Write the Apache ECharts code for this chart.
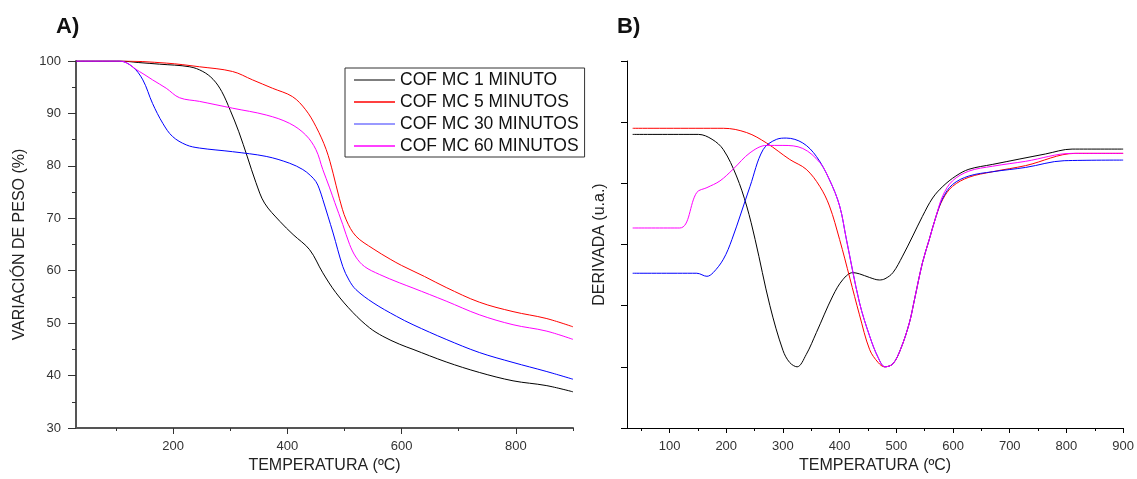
<!DOCTYPE html>
<html>
<head>
<meta charset="utf-8">
<script src="https://cdn.jsdelivr.net/npm/echarts@6/dist/echarts.min.js"></script>
<style>
html,body{margin:0;padding:0;background:#fff;}
#chart{width:1137px;height:479px;}
</style>
</head>
<body>
<div id="chart"></div>
<script>
// ---------- DATA ----------
const seriesNames = ['COF MC 1 MINUTO', 'COF MC 5 MINUTOS', 'COF MC 30 MINUTOS', 'COF MC 60 MINUTOS'];
const seriesColors = ['#000000', '#ff0000', '#0000ff', '#ff00ff'];
const legendColors = ['#555555', '#ff0000', '#7777ff', '#ff00ff'];

// Panel A: weight variation (%)
const aTemp1 = [30, 106, 140, 176, 229, 252, 270, 285, 300, 315, 330, 345, 360, 387, 410, 439, 462, 485, 515, 544, 567, 596, 620, 678, 736, 795, 853, 900];
const aVal1  = [100, 100, 99.7, 99.4, 98.9, 98.0, 96.5, 94.2, 90.6, 86.5, 81.7, 76.8, 72.9, 69.4, 66.9, 64.0, 59.6, 55.8, 52.0, 49.1, 47.5, 46.0, 45.0, 42.6, 40.6, 39.0, 38.1, 36.9];
const aTemp5 = [30, 106, 188, 246, 304, 339, 374, 409, 432, 450, 468, 480, 491, 503, 520, 550, 580, 600, 640, 678, 736, 795, 853, 900];
const aVal5  = [100, 100, 99.6, 98.9, 98.0, 96.4, 94.8, 93.2, 90.7, 87.5, 83.1, 78.6, 73.8, 69.7, 66.6, 64.2, 62.2, 61.0, 58.9, 56.8, 54.0, 52.2, 50.9, 49.3];
const aTemp30 = [30, 106, 129, 147, 164, 182, 199, 223, 246, 304, 363, 404, 427, 440, 450, 456, 462, 480, 497, 508, 520, 550, 591, 620, 678, 736, 795, 853, 900];
const aVal30  = [100, 100, 98.9, 96.4, 91.9, 88.1, 85.6, 84.0, 83.4, 82.7, 81.8, 80.5, 79.3, 78.2, 77.0, 75.6, 73.6, 67.2, 60.8, 58.2, 56.4, 53.9, 51.3, 49.7, 46.9, 44.4, 42.5, 40.8, 39.3];
const aTemp60 = [30, 106, 141, 164, 188, 211, 246, 304, 363, 404, 432, 450, 462, 474, 483, 497, 509, 520, 535, 561, 596, 620, 678, 736, 795, 853, 900];
const aVal60  = [100, 100, 98.0, 96.4, 94.8, 93.0, 92.3, 91.0, 89.7, 88.1, 85.9, 83.1, 79.3, 75.8, 73.0, 68.8, 65.0, 62.6, 60.8, 59.3, 57.7, 56.7, 54.2, 51.6, 49.7, 48.5, 46.9];

// Panel B: derivative (arbitrary units)
const bTemp1 = [35, 151, 175, 195, 218, 236, 251, 277, 300, 312, 325, 341, 359, 388, 406, 423, 435, 453, 470, 480, 494, 511, 529, 546, 564, 582, 605, 628, 670, 763, 810, 900];
const bVal1  = [4.80, 4.80, 4.72, 4.55, 4.12, 3.63, 3.08, 2.00, 1.27, 1.07, 1.00, 1.20, 1.56, 2.16, 2.43, 2.54, 2.52, 2.46, 2.42, 2.44, 2.54, 2.81, 3.14, 3.46, 3.76, 3.95, 4.12, 4.23, 4.31, 4.48, 4.56, 4.56];
const bTemp5 = [35, 195, 236, 271, 312, 341, 365, 382, 400, 418, 435, 453, 468, 479, 494, 508, 523, 532, 546, 558, 570, 582, 599, 628, 670, 728, 816, 900];
const bVal5  = [4.90, 4.90, 4.83, 4.66, 4.39, 4.23, 3.95, 3.63, 3.08, 2.45, 1.85, 1.28, 1.07, 1.00, 1.05, 1.30, 1.72, 2.10, 2.70, 3.08, 3.46, 3.74, 3.95, 4.10, 4.19, 4.29, 4.49, 4.49];
const bTemp30 = [35, 148, 166, 177, 195, 210, 242, 265, 289, 306, 335, 359, 382, 400, 412, 435, 453, 468, 480, 494, 508, 523, 532, 546, 558, 570, 582, 599, 628, 670, 728, 796, 900];
const bVal30  = [2.53, 2.53, 2.48, 2.54, 2.76, 3.08, 3.95, 4.55, 4.72, 4.74, 4.66, 4.44, 4.06, 3.63, 3.08, 2.05, 1.50, 1.15, 1.00, 1.05, 1.30, 1.72, 2.10, 2.70, 3.08, 3.46, 3.76, 3.98, 4.12, 4.19, 4.26, 4.37, 4.38];
const bTemp60 = [35, 118, 148, 166, 189, 212, 242, 271, 300, 335, 365, 382, 400, 412, 435, 453, 468, 480, 494, 508, 523, 532, 546, 558, 570, 582, 599, 628, 670, 728, 810, 900];
const bVal60  = [3.27, 3.27, 3.85, 3.93, 4.04, 4.23, 4.50, 4.62, 4.62, 4.57, 4.34, 4.06, 3.63, 3.08, 2.05, 1.50, 1.15, 1.00, 1.05, 1.30, 1.72, 2.10, 2.70, 3.08, 3.46, 3.80, 4.04, 4.20, 4.28, 4.36, 4.49, 4.49];

// Tick labels
const aXMajor = [200, 400, 600, 800];
const aXMinor = [100, 300, 500, 700, 900];
const bXMajor = [100, 200, 300, 400, 500, 600, 700, 800, 900];
const bXMinor = [50, 150, 250, 350, 450, 550, 650, 750, 850];

const panelTitles = ['A)', 'B)'];
const xName = 'TEMPERATURA (ºC)';
const aYName = 'VARIACIÓN DE PESO (%)';
const bYName = 'DERIVADA (u.a.)';

// ---------- BUILD ----------
const FONT = '"Liberation Sans", Arial, sans-serif';
const zip = (t, v) => t.map((x, i) => [x, v[i]]);
const aData = [zip(aTemp1, aVal1), zip(aTemp5, aVal5), zip(aTemp30, aVal30), zip(aTemp60, aVal60)];
const bData = [zip(bTemp1, bVal1), zip(bTemp5, bVal5), zip(bTemp30, bVal30), zip(bTemp60, bVal60)];

const series = [];
aData.forEach((d, i) => series.push({
  name: seriesNames[i], type: 'line', xAxisIndex: 0, yAxisIndex: 0, data: d,
  showSymbol: false, symbol: 'none', smooth: 0.35, lineStyle: {color: seriesColors[i], width: 1}, itemStyle: {color: seriesColors[i]}
}));
bData.forEach((d, i) => series.push({
  name: seriesNames[i], type: 'line', xAxisIndex: 2, yAxisIndex: 1, data: d,
  showSymbol: false, symbol: 'none', smooth: 0.35, lineStyle: {color: seriesColors[i], width: 1}, itemStyle: {color: seriesColors[i]}
}));

const labelStyle = {color: '#333', fontSize: 13, fontFamily: FONT};
const nameStyle = {color: '#222', fontSize: 16, fontFamily: FONT};

const option = {
  animation: false,
  backgroundColor: '#fff',
  title: [
    {text: panelTitles[0], left: 51, top: 11, textStyle: {fontSize: 22, fontWeight: 'bold', color: '#111', fontFamily: FONT}},
    {text: panelTitles[1], left: 612, top: 11, textStyle: {fontSize: 22, fontWeight: 'bold', color: '#111', fontFamily: FONT}}
  ],
  legend: {
    show: true,
    orient: 'vertical', left: 345, top: 68,
    padding: [3, 6, 2, 9], itemGap: 4, itemWidth: 41, itemHeight: 1.6,
    icon: 'rect',
    borderColor: '#333', borderWidth: 1, backgroundColor: '#fff',
    textStyle: {fontSize: 17.5, color: '#111', fontFamily: FONT},
    data: seriesNames.map((n, i) => ({name: n, icon: 'rect', itemStyle: {color: legendColors[i]}})),
    selectedMode: false
  },
  grid: [
    {left: 76, top: 61, width: 497, height: 368},
    {left: 627, top: 61, width: 498, height: 368}
  ],
  xAxis: [
    {type: 'value', gridIndex: 0, position: 'bottom', min: 30, max: 900,
     name: xName, nameLocation: 'middle', nameGap: 30, nameTextStyle: nameStyle,
     axisLine: {show: true, lineStyle: {color: '#555', width: 2}},
     axisTick: {show: true, length: 6, customValues: aXMajor, lineStyle: {color: '#333'}},
     axisLabel: {customValues: aXMajor, margin: 12, ...labelStyle},
     splitLine: {show: false}},
    {type: 'value', gridIndex: 0, position: 'bottom', offset: 0, min: 30, max: 900,
     axisLine: {show: false},
     axisTick: {show: true, length: 3, customValues: aXMinor, lineStyle: {color: '#333'}},
     axisLabel: {show: false}, splitLine: {show: false}},
    {type: 'value', gridIndex: 1, position: 'bottom', min: 25, max: 900,
     name: xName, nameLocation: 'middle', nameGap: 30, nameTextStyle: nameStyle,
     axisLine: {show: true, lineStyle: {color: '#000', width: 1}},
     axisTick: {show: true, length: 5, customValues: bXMajor, lineStyle: {color: '#000'}},
     axisLabel: {customValues: bXMajor, margin: 12, ...labelStyle},
     splitLine: {show: false}},
    {type: 'value', gridIndex: 1, position: 'bottom', offset: 0, min: 25, max: 900,
     axisLine: {show: false},
     axisTick: {show: true, length: 3, customValues: bXMinor, lineStyle: {color: '#000'}},
     axisLabel: {show: false}, splitLine: {show: false}}
  ],
  yAxis: [
    {type: 'value', gridIndex: 0, min: 30, max: 100, interval: 10,
     name: aYName, nameLocation: 'middle', nameGap: 48, nameTextStyle: nameStyle,
     axisLine: {show: true, lineStyle: {color: '#555', width: 2}},
     axisTick: {show: true, length: 8, lineStyle: {color: '#333'}},
     minorTick: {show: true, splitNumber: 2, length: 4, lineStyle: {color: '#333'}},
     axisLabel: {margin: 15, ...labelStyle},
     splitLine: {show: false}, minorSplitLine: {show: false}},
    {type: 'value', gridIndex: 1, min: 0, max: 6, interval: 1,
     name: bYName, nameLocation: 'middle', nameGap: 19, nameTextStyle: nameStyle,
     axisLine: {show: true, lineStyle: {color: '#000', width: 1}},
     axisTick: {show: true, length: 6, lineStyle: {color: '#000'}},
     axisLabel: {show: false},
     splitLine: {show: false}}
  ],
  series: series
};

const chart = echarts.init(document.getElementById('chart'), null, {renderer: 'canvas'});
chart.setOption(option);
</script>
</body>
</html>
